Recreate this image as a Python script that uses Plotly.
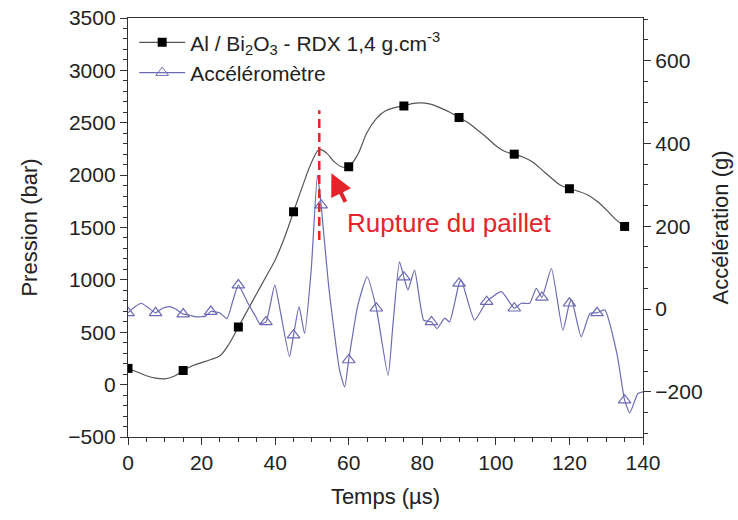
import plotly.graph_objects as go

# Pressure (bar) - smooth curve samples
p_t = [0, 2.5, 5, 7.5, 10, 12.5, 15, 17.5, 20, 22.5, 25, 27.5, 30, 32.5, 35, 37.5, 40, 42.5,
       45, 47.5, 50, 52, 54, 56, 58, 60, 62.5, 65, 67.5, 70, 72.5, 75, 77.5, 80, 82.5, 85,
       87.5, 90, 92.5, 95, 97.5, 100, 102.5, 105, 107.5, 110, 112.5, 115, 117.5, 120, 122.5,
       125, 127.5, 130, 132.5, 135]
p_bar = [155, 120, 85, 62, 55, 80, 135, 180, 210, 240, 275, 390, 550, 710, 870, 1030, 1190, 1400,
         1650, 1900, 2130, 2245, 2210, 2130, 2080, 2080, 2200, 2410, 2540, 2615, 2645, 2660, 2685, 2690, 2675, 2640,
         2600, 2550, 2500, 2430, 2360, 2280, 2225, 2200, 2170, 2125, 2050, 1975, 1905, 1870, 1845,
         1810, 1750, 1670, 1580, 1510]
p_marker_t = [0, 15, 30, 45, 60, 75, 90, 105, 120, 135]

# Accelerometer (g)
a_t = [0, 1.8, 3.6, 5.4, 7.5, 9.4, 11.3, 13, 15, 16.8, 18.6, 21.1, 22.5, 24.9, 26.9, 28.5, 30,
       32.6, 34.5, 35.8, 37.5, 39.9, 41.5, 43.9, 45, 46.5, 48, 49.8, 51.5, 52.5, 54.5, 57.5, 58.9,
       60, 62.5, 65, 67.5, 70.7, 72, 73.8, 75, 76.1, 77.9, 80.4, 82.5, 84, 86.1, 87.4, 90, 90.6,
       94.2, 97.5, 101.5, 105, 106.9, 109.2, 111, 112.5, 115.1, 118.2, 120, 120.6, 123.2, 125.6,
       127.5, 129.6, 132.9, 135, 136.4, 138.6, 140]
a_g = [-9, 5, 14, 4, -9, 2, 6, 0, -12, -15, -19, -17, -6, -9, -23, 20, 58,
       14, -15, -35, -31, 58, -10, -115, -63, 6, -59, 94, 324, 251, 60, -147, -188,
       -123, 10, 78, 2, -160, -40, 114, 77, 46, 94, -27, -31, -47, -22, -31, 62, 70,
       -27, 18, 42, 2, 14, 14, 50, 28, 98, -51, 14, 22, -67, -10,
       -9, -2, -107, -220, -251, -204, -200]
a_marker_t = [0, 7.5, 15, 22.5, 30, 37.5, 45, 52.5, 60, 67.5, 75, 82.5, 90, 97.5, 105, 112.5, 120, 127.5, 135]

# Annotation values
rupture_t = 52
rupture_p = [1380, 2620]
arrow_head = (55.3, 2017)
arrow_tail = (59.3, 1730)
label_pos = (87.3, 1545)

x_ticks = [0, 20, 40, 60, 80, 100, 120, 140]
y_ticks = [-500, 0, 500, 1000, 1500, 2000, 2500, 3000, 3500]
y2_ticks = [-200, 0, 200, 400, 600]

FONT = "Arial, Liberation Sans, sans-serif"
BLUE = "#6b6bb5"
GRAY = "#555555"
RED = "#e3242b"

pm_y = [p_bar[p_t.index(t)] for t in p_marker_t]
am_y = [a_g[a_t.index(t)] for t in a_marker_t]

fig = go.Figure()
fig.add_trace(go.Scatter(x=p_t, y=p_bar, mode="lines", line=dict(color=GRAY, width=1.2, shape="spline"),
                         showlegend=False, hoverinfo="skip"))
fig.add_trace(go.Scatter(x=p_marker_t, y=pm_y, mode="markers",
                         marker=dict(symbol="square", size=9, color="black"), showlegend=False))
fig.add_trace(go.Scatter(x=a_t, y=a_g, yaxis="y2", mode="lines",
                         line=dict(color=BLUE, width=1.2, shape="spline", smoothing=0.5),
                         showlegend=False, hoverinfo="skip"))
fig.add_trace(go.Scatter(x=a_marker_t, y=am_y, yaxis="y2", mode="markers",
                         marker=dict(symbol="triangle-up-open", size=11, color=BLUE,
                                     line=dict(width=1.2, color=BLUE)), showlegend=False))
# legend entries
fig.add_trace(go.Scatter(x=[None], y=[None], mode="lines+markers",
                         name="Al / Bi<sub>2</sub>O<sub>3</sub> - RDX 1,4 g.cm<sup>-3</sup>",
                         line=dict(color=GRAY, width=1.2),
                         marker=dict(symbol="square", size=9, color="black")))
fig.add_trace(go.Scatter(x=[None], y=[None], mode="lines+markers", name="Accéléromètre",
                         line=dict(color=BLUE, width=1.2),
                         marker=dict(symbol="triangle-up-open", size=11, color=BLUE)))

fig.add_shape(type="line", x0=rupture_t, x1=rupture_t, y0=rupture_p[0], y1=rupture_p[1],
              xref="x", yref="y", line=dict(color=RED, width=2.5, dash="9px,5px"))
fig.add_annotation(x=arrow_head[0], y=arrow_head[1], ax=arrow_tail[0], ay=arrow_tail[1],
                   xref="x", yref="y", axref="x", ayref="y", text="", showarrow=True,
                   arrowhead=2, arrowsize=1.1, arrowwidth=4, arrowcolor=RED)
fig.add_annotation(x=label_pos[0], y=label_pos[1], xref="x", yref="y", text="Rupture du paillet",
                   showarrow=False, font=dict(family=FONT, size=26, color=RED))

axis_common = dict(showline=True, linecolor="#333333", linewidth=1.3, ticks="outside",
                   tickcolor="#333333", tickwidth=1.2, ticklen=7, showgrid=False, zeroline=False,
                   automargin=False, ticklabeloverflow="allow",
                   tickfont=dict(family=FONT, size=21, color="#222222"))

fig.update_layout(
    width=738, height=520,
    margin=dict(l=128, r=95, t=18, b=83),
    paper_bgcolor="white", plot_bgcolor="white",
    font=dict(family=FONT, color="#222222"),
    xaxis=dict(range=[0, 140], tickvals=x_ticks, mirror=True,
               minor=dict(dtick=5, ticks="outside", ticklen=4, tickcolor="#333333"),
               title=dict(text="Temps (µs)", font=dict(family=FONT, size=22), standoff=15),
               **axis_common),
    yaxis=dict(range=[-500, 3500], tickvals=y_ticks,
               minor=dict(dtick=100, ticks="outside", ticklen=4, tickcolor="#333333"),
               title=dict(text="Pression (bar)", font=dict(family=FONT, size=22), standoff=24),
               **axis_common),
    yaxis2=dict(range=[-309, 703], tickvals=y2_ticks, overlaying="y", side="right",
                minor=dict(dtick=50, ticks="outside", ticklen=4, tickcolor="#333333"),
                title=dict(text="Accélération (g)", font=dict(family=FONT, size=22), standoff=10),
                **axis_common),
    legend=dict(x=0.012, y=0.99, xanchor="left", yanchor="top", bgcolor="rgba(0,0,0,0)",
                font=dict(family=FONT, size=21, color="#222222"), tracegroupgap=0, itemwidth=46),
    showlegend=True,
)

# remove the default 8px page margin so the 738x520 figure fills the window exactly
fig.write_html("out.html", config={"displayModeBar": False},
               post_script="document.body.style.margin='0';")
